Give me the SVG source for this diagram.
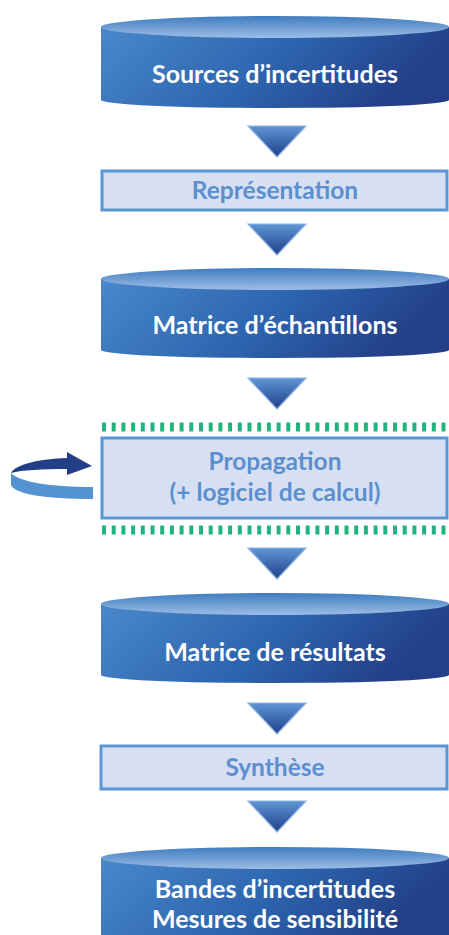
<svg xmlns="http://www.w3.org/2000/svg" width="449" height="935" viewBox="0 0 449 935">
<defs>
<linearGradient id="body" x1="0" y1="0" x2="1" y2="0.25">
<stop offset="0" stop-color="#4a88ca"/>
<stop offset="0.55" stop-color="#2d66b0"/>
<stop offset="1" stop-color="#233f88"/>
</linearGradient>
<linearGradient id="topg" x1="0" y1="0" x2="0" y2="1">
<stop offset="0" stop-color="#3f7cc0"/>
<stop offset="1" stop-color="#9cbde6"/>
</linearGradient>
<linearGradient id="tri" x1="0" y1="0" x2="0" y2="1">
<stop offset="0" stop-color="#5f95d4"/>
<stop offset="1" stop-color="#1f3f8b"/>
</linearGradient>
<style>
.cyl{fill:url(#body)}
.cyltop{fill:url(#topg)}
.tri{fill:url(#tri);stroke:#8db3e3;stroke-width:1.2}
.box{fill:#d6e0f2;stroke:#5b96d3;stroke-width:3}
.wt{font-family:"Lato","Open Sans",sans-serif;font-weight:700;font-size:25px;fill:#ffffff;text-anchor:middle}
.bt{font-family:"Lato","Open Sans",sans-serif;font-weight:700;font-size:24.5px;fill:#5b8fd0;text-anchor:middle}
.dash{stroke:#20b47c;stroke-width:9;stroke-dasharray:4 5.7}
</style>
</defs>
<g id="connectors">
<polygon class="tri" points="248,126 306,126 277,157"/>
<polygon class="tri" points="248,224 306,224 277,255"/>
<polygon class="tri" points="248,378 306,378 277,409"/>
<polygon class="tri" points="248,548 306,548 277,579"/>
<polygon class="tri" points="248,703 306,703 277,734"/>
<polygon class="tri" points="248,801 306,801 277,832"/>
</g>
<g id="loop">
<path d="M11,473 C20,482 50,487 93,487 L93,499 C45,499 15,494 11,485 Z" fill="#5592d0"/>
<path d="M11,473 C16,464 40,459 67,458 L67,452 L92,466 L67,475 L67,469 C42,469 22,470 11,473 Z" fill="#233f88"/>
</g>
<g id="n1">
<path class="cyl" d="M101,27 L101,100 A174,8 0 0 0 449,100 L449,27 Z"/>
<ellipse class="cyltop" cx="275" cy="27" rx="174" ry="11"/>
<text class="wt" x="275" y="83">Sources d’incertitudes</text>
</g>
<g id="n2">
<rect class="box" x="102" y="171" width="345" height="39"/>
<text class="bt" x="275" y="199">Représentation</text>
</g>
<g id="n3">
<path class="cyl" d="M101,279 L101,350 A174,8 0 0 0 449,350 L449,279 Z"/>
<ellipse class="cyltop" cx="275" cy="279" rx="174" ry="11"/>
<text class="wt" x="275" y="334">Matrice d’échantillons</text>
</g>
<g id="n4">
<line class="dash" x1="102" y1="427" x2="449" y2="427"/>
<line class="dash" x1="102" y1="530" x2="449" y2="530"/>
<rect class="box" x="102" y="438" width="345" height="80"/>
<text class="bt" x="275" y="470">Propagation</text>
<text class="bt" x="275" y="501">(+ logiciel de calcul)</text>
</g>
<g id="n5">
<path class="cyl" d="M101,604 L101,675 A174,8 0 0 0 449,675 L449,604 Z"/>
<ellipse class="cyltop" cx="275" cy="604" rx="174" ry="11"/>
<text class="wt" x="275" y="661">Matrice de résultats</text>
</g>
<g id="n6">
<rect class="box" x="101" y="746" width="346" height="43"/>
<text class="bt" x="275" y="776">Synthèse</text>
</g>
<g id="n7">
<path class="cyl" d="M101,858 L101,935 L449,935 L449,858 Z"/>
<ellipse class="cyltop" cx="275" cy="858" rx="174" ry="11"/>
<text class="wt" x="275" y="898">Bandes d’incertitudes</text>
<text class="wt" x="275" y="928">Mesures de sensibilité</text>
</g>
</svg>
